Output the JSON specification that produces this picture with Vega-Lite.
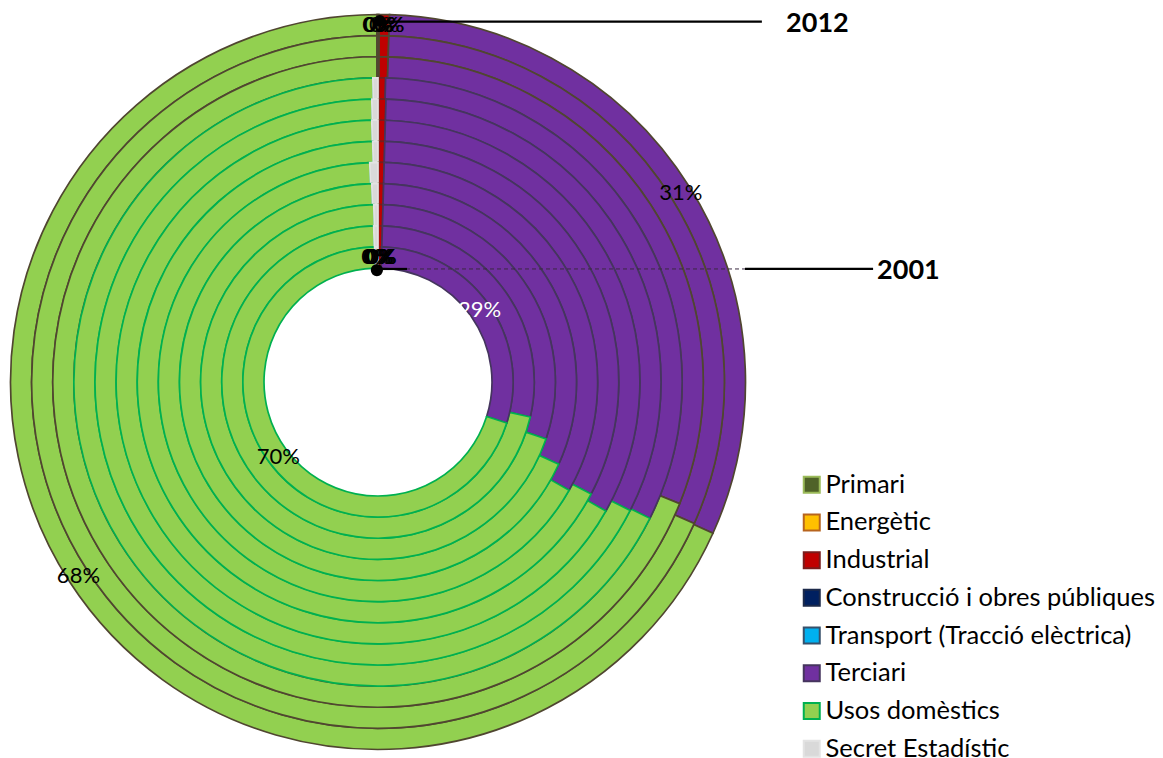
{
"$schema":"https://vega.github.io/schema/vega-lite/v6.json",
"width":1163,"height":758,"autosize":"none","padding":0,"background":"white",
"config":{"view":{"stroke":null},"font":"Lato"},
"datasets":{"shares":[
{"year":2012,"cat":"Primari","v":0.0005},{"year":2012,"cat":"Energètic","v":0},{"year":2012,"cat":"Industrial","v":0.0045},{"year":2012,"cat":"Construcció i obres públiques","v":0},{"year":2012,"cat":"Transport (Tracció elèctrica)","v":0},{"year":2012,"cat":"Terciari","v":0.3125},{"year":2012,"cat":"Usos domèstics","v":0.682},{"year":2012,"cat":"Secret Estadístic","v":0.0005},
{"year":2011,"cat":"Primari","v":0.0005},{"year":2011,"cat":"Energètic","v":0},{"year":2011,"cat":"Industrial","v":0.0045},{"year":2011,"cat":"Construcció i obres públiques","v":0},{"year":2011,"cat":"Transport (Tracció elèctrica)","v":0},{"year":2011,"cat":"Terciari","v":0.312},{"year":2011,"cat":"Usos domèstics","v":0.6825},{"year":2011,"cat":"Secret Estadístic","v":0.0005},
{"year":2010,"cat":"Primari","v":0.0005},{"year":2010,"cat":"Energètic","v":0},{"year":2010,"cat":"Industrial","v":0.0045},{"year":2010,"cat":"Construcció i obres públiques","v":0},{"year":2010,"cat":"Transport (Tracció elèctrica)","v":0},{"year":2010,"cat":"Terciari","v":0.306},{"year":2010,"cat":"Usos domèstics","v":0.6885},{"year":2010,"cat":"Secret Estadístic","v":0.0005},
{"year":2009,"cat":"Primari","v":0.0005},{"year":2009,"cat":"Energètic","v":0},{"year":2009,"cat":"Industrial","v":0.0035},{"year":2009,"cat":"Construcció i obres públiques","v":0},{"year":2009,"cat":"Transport (Tracció elèctrica)","v":0},{"year":2009,"cat":"Terciari","v":0.32},{"year":2009,"cat":"Usos domèstics","v":0.6733},{"year":2009,"cat":"Secret Estadístic","v":0.0027},
{"year":2008,"cat":"Primari","v":0.0005},{"year":2008,"cat":"Energètic","v":0},{"year":2008,"cat":"Industrial","v":0.004},{"year":2008,"cat":"Construcció i obres públiques","v":0},{"year":2008,"cat":"Transport (Tracció elèctrica)","v":0},{"year":2008,"cat":"Terciari","v":0.3205},{"year":2008,"cat":"Usos domèstics","v":0.6715},{"year":2008,"cat":"Secret Estadístic","v":0.0035},
{"year":2007,"cat":"Primari","v":0.0005},{"year":2007,"cat":"Energètic","v":0},{"year":2007,"cat":"Industrial","v":0.004},{"year":2007,"cat":"Construcció i obres públiques","v":0},{"year":2007,"cat":"Transport (Tracció elèctrica)","v":0},{"year":2007,"cat":"Terciari","v":0.3275},{"year":2007,"cat":"Usos domèstics","v":0.6642},{"year":2007,"cat":"Secret Estadístic","v":0.0038},
{"year":2006,"cat":"Primari","v":0.0005},{"year":2006,"cat":"Energètic","v":0},{"year":2006,"cat":"Industrial","v":0.004},{"year":2006,"cat":"Construcció i obres públiques","v":0},{"year":2006,"cat":"Transport (Tracció elèctrica)","v":0},{"year":2006,"cat":"Terciari","v":0.3225},{"year":2006,"cat":"Usos domèstics","v":0.6695},{"year":2006,"cat":"Secret Estadístic","v":0.0035},
{"year":2005,"cat":"Primari","v":0.0005},{"year":2005,"cat":"Energètic","v":0},{"year":2005,"cat":"Industrial","v":0.004},{"year":2005,"cat":"Construcció i obres públiques","v":0},{"year":2005,"cat":"Transport (Tracció elèctrica)","v":0},{"year":2005,"cat":"Terciari","v":0.3275},{"year":2005,"cat":"Usos domèstics","v":0.662},{"year":2005,"cat":"Secret Estadístic","v":0.006},
{"year":2004,"cat":"Primari","v":0.0005},{"year":2004,"cat":"Energètic","v":0},{"year":2004,"cat":"Industrial","v":0.004},{"year":2004,"cat":"Construcció i obres públiques","v":0},{"year":2004,"cat":"Transport (Tracció elèctrica)","v":0},{"year":2004,"cat":"Terciari","v":0.3135},{"year":2004,"cat":"Usos domèstics","v":0.677},{"year":2004,"cat":"Secret Estadístic","v":0.005},
{"year":2003,"cat":"Primari","v":0.0005},{"year":2003,"cat":"Energètic","v":0},{"year":2003,"cat":"Industrial","v":0.004},{"year":2003,"cat":"Construcció i obres públiques","v":0},{"year":2003,"cat":"Transport (Tracció elèctrica)","v":0},{"year":2003,"cat":"Terciari","v":0.2975},{"year":2003,"cat":"Usos domèstics","v":0.6942},{"year":2003,"cat":"Secret Estadístic","v":0.0038},
{"year":2002,"cat":"Primari","v":0.0005},{"year":2002,"cat":"Energètic","v":0},{"year":2002,"cat":"Industrial","v":0.004},{"year":2002,"cat":"Construcció i obres públiques","v":0},{"year":2002,"cat":"Transport (Tracció elèctrica)","v":0},{"year":2002,"cat":"Terciari","v":0.2815},{"year":2002,"cat":"Usos domèstics","v":0.7096},{"year":2002,"cat":"Secret Estadístic","v":0.0044},
{"year":2001,"cat":"Primari","v":0.0005},{"year":2001,"cat":"Energètic","v":0},{"year":2001,"cat":"Industrial","v":0.004},{"year":2001,"cat":"Construcció i obres públiques","v":0},{"year":2001,"cat":"Transport (Tracció elèctrica)","v":0},{"year":2001,"cat":"Terciari","v":0.2945},{"year":2001,"cat":"Usos domèstics","v":0.697},{"year":2001,"cat":"Secret Estadístic","v":0.004}
]},
"layer":[
{
"data":{"name":"shares"},
"transform":[
{"stack":"v","groupby":["year"],"as":["t0","t1"]},
{"calculate":"datum.year - 1","as":"y0"},
{"filter":"datum.v > 0"}
],
"mark":{"type":"arc","strokeWidth":1.7},
"encoding":{
"x":{"datum":0,"type":"quantitative","scale":{"domain":[-1,1],"range":[11,745]},"axis":null},
"y":{"datum":0,"type":"quantitative","scale":{"domain":[-1,1],"range":[749,15]},"axis":null},
"theta":{"field":"t0","type":"quantitative","scale":{"domain":[0,1],"range":[0,6.283185307]}},
"theta2":{"field":"t1"},
"radius":{"field":"year","type":"quantitative","scale":{"type":"linear","domain":[2000,2012],"range":[114,367.5],"zero":false}},
"radius2":{"field":"y0"},
"color":{"field":"cat","type":"nominal",
"scale":{"domain":["Primari","Energètic","Industrial","Construcció i obres públiques","Transport (Tracció elèctrica)","Terciari","Usos domèstics","Secret Estadístic"],
"range":["#4f6228","#ffc000","#c00000","#002060","#00b0f0","#7030a0","#92d050","#d9d9d9"]},
"legend":{"orient":"none","legendX":799,"legendY":472,"title":null,"symbolType":"square","symbolSize":256,"symbolStrokeWidth":2,"labelFont":"Lato","labelFontSize":25.5,"labelColor":"#000000","labelOffset":1,"labelLimit":0,"rowPadding":10.7,"padding":0}},
"stroke":{"condition":{"test":"datum.year >= 2010","value":"#504630"},"field":"cat","type":"nominal",
"scale":{"domain":["Primari","Energètic","Industrial","Construcció i obres públiques","Transport (Tracció elèctrica)","Terciari","Usos domèstics","Secret Estadístic"],
"range":["#9bbb59","#b7641e","#7a1c1c","#1c2a4a","#37506b","#45355e","#00b050","#e3e3e3"]},
"legend":{"orient":"none","legendX":799,"legendY":472,"title":null,"symbolType":"square","symbolSize":256,"symbolStrokeWidth":2,"labelFont":"Lato","labelFontSize":25.5,"labelColor":"#000000","labelOffset":1,"labelLimit":0,"rowPadding":10.7,"padding":0}}
}
},
{
"data":{"name":"shares"},
"transform":[
{"stack":"v","groupby":["year"],"as":["t0","t1"]},
{"filter":"datum.year == 2001 || datum.year == 2012"},
{"calculate":"(datum.t0 + datum.t1) / 2","as":"mid"},
{"calculate":"datum.year - 0.5","as":"rm"}
],
"mark":{"type":"text","font":"Lato","fontSize":22},
"encoding":{
"x":{"datum":0,"type":"quantitative"},
"y":{"datum":0,"type":"quantitative"},
"theta":{"field":"mid","type":"quantitative"},
"radius":{"field":"rm","type":"quantitative"},
"text":{"field":"v","type":"quantitative","format":".0%"},
"color":{"condition":{"test":"datum.year == 2001 && datum.cat == 'Terciari'","value":"#ffffff"},"value":"#000000"}
}
},
{
"data":{"values":[{"label":"2012"}]},
"layer":[
{"mark":{"type":"rule","color":"#000000","strokeWidth":2.2},
"encoding":{"x":{"datum":0,"type":"quantitative"},"x2":{"datum":1.046},"y":{"datum":0.982,"type":"quantitative"}}},
{"mark":{"type":"point","filled":true,"color":"#000000","opacity":1,"size":140,"shape":"circle"},
"encoding":{"x":{"datum":0.005,"type":"quantitative"},"y":{"datum":0.984,"type":"quantitative"}}},
{"mark":{"type":"text","font":"Lato","fontWeight":"bold","fontSize":27,"align":"left","baseline":"middle","color":"#000000"},
"encoding":{"x":{"datum":1.112,"type":"quantitative"},"y":{"datum":0.975,"type":"quantitative"},"text":{"field":"label"}}}
]
},
{
"data":{"values":[{"label":"2001"}]},
"layer":[
{"mark":{"type":"rule","color":"#3a2a40","strokeWidth":1,"strokeDash":[4,3]},
"encoding":{"x":{"datum":0,"type":"quantitative"},"x2":{"datum":1.0},"y":{"datum":0.308,"type":"quantitative"}}},
{"mark":{"type":"rule","color":"#000000","strokeWidth":2.2},
"encoding":{"x":{"datum":0,"type":"quantitative"},"x2":{"datum":0.079},"y":{"datum":0.308,"type":"quantitative"}}},
{"mark":{"type":"rule","color":"#000000","strokeWidth":2.2},
"encoding":{"x":{"datum":1.0,"type":"quantitative"},"x2":{"datum":1.349},"y":{"datum":0.308,"type":"quantitative"}}},
{"mark":{"type":"point","filled":true,"color":"#000000","opacity":1,"size":150,"shape":"circle"},
"encoding":{"x":{"datum":-0.003,"type":"quantitative"},"y":{"datum":0.305,"type":"quantitative"}}},
{"mark":{"type":"text","font":"Lato","fontWeight":"bold","fontSize":27,"align":"left","baseline":"middle","color":"#000000"},
"encoding":{"x":{"datum":1.36,"type":"quantitative"},"y":{"datum":0.302,"type":"quantitative"},"text":{"field":"label"}}}
]
}
]
}
